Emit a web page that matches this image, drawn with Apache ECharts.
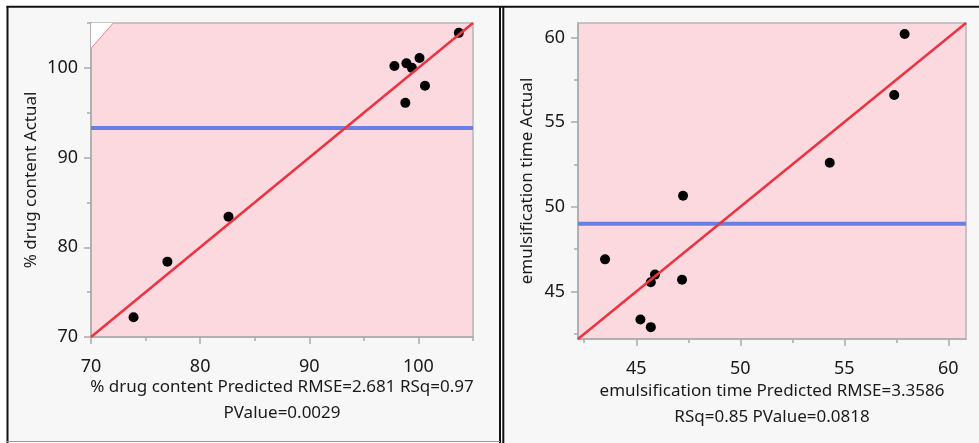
<!DOCTYPE html>
<html>
<head>
<meta charset="utf-8">
<script src="https://cdn.jsdelivr.net/npm/echarts@6/dist/echarts.min.js"></script>
<style>
  html, body { margin: 0; padding: 0; background: #fff; }
  #main { width: 979px; height: 443px; }
</style>
</head>
<body>
<div id="main"></div>
<script>
// left plot: % drug content
const drugPred = [73.9, 77.0, 82.6, 97.8, 98.9, 99.4, 100.1, 98.8, 100.6, 103.7];
const drugActual = [72.2, 78.4, 83.4, 100.2, 100.5, 100.0, 101.1, 96.1, 98.0, 103.9];
const drugMean = 93.3;
const drugRange = [70, 105];
const drugTicks = [70, 80, 90, 100];
const drugMinor = [75, 85, 95, 105];
const drugConf = [[70, 102.17], [72.05, 105]]; // edge of shaded band, top-left corner

// right plot: emulsification time
const emulPred = [43.5, 45.2, 45.7, 45.7, 45.9, 47.2, 47.25, 54.3, 57.4, 57.9];
const emulActual = [46.9, 43.35, 42.9, 45.55, 46.0, 45.7, 50.65, 52.6, 56.6, 60.2];
const emulMean = 49.0;
const emulRange = [42.2, 60.85];
const emulTicks = [45, 50, 55, 60];
const emulMinor = [42.5, 47.5, 52.5, 57.5];

const FONT = "Noto Sans";
const pink = "#fbd9de";
const gray = "#aaaaaa";

function pts(xs, ys) {
  return xs.map((x, i) => [x, ys[i]]);
}

function majorAxis(range, ticks, gridIndex, dim, name, gap) {
  return {
    type: "value",
    gridIndex: gridIndex,
    position: dim === "x" ? "bottom" : "left",
    min: range[0],
    max: range[1],
    name: name,
    nameLocation: "middle",
    nameGap: gap,
    nameMoveOverlap: false,
    nameTextStyle: { fontFamily: FONT, fontSize: 17, color: "#1a1a1a", lineHeight: 26 },
    axisLine: { show: true, onZero: false, lineStyle: { color: gray, width: 1.5 } },
    axisTick: { show: true, customValues: ticks, length: 7, lineStyle: { color: gray, width: 1.5 } },
    axisLabel: {
      customValues: ticks,
      margin: 13,
      padding: dim === "x" ? [8, 0, 0, 0] : 0,
      fontFamily: FONT,
      fontSize: 18,
      color: "#1a1a1a"
    },
    splitLine: { show: false }
  };
}

function minorAxis(range, ticks, gridIndex, dim) {
  return {
    type: "value",
    gridIndex: gridIndex,
    position: dim === "x" ? "bottom" : "left",
    min: range[0],
    max: range[1],
    axisLine: { show: false, onZero: false },
    axisTick: { show: true, customValues: ticks, length: 4, lineStyle: { color: gray, width: 1.5 } },
    axisLabel: { show: false },
    splitLine: { show: false }
  };
}

let myChart = echarts.init(document.getElementById("main"));

let option = {
  animation: false,
  backgroundColor: "#ffffff",
  graphic: [
    { type: "rect", z: -10, shape: { x: 7, y: 7, width: 493, height: 435 }, style: { fill: "#f7f7f7" } },
    { type: "rect", z: -10, shape: { x: 503, y: 7, width: 476, height: 436 }, style: { fill: "#f7f7f7" } },
    { type: "line", z: -9, shape: { x1: 6.5, y1: 6.8, x2: 979, y2: 6.8 }, style: { stroke: "#111", lineWidth: 2 } },
    { type: "line", z: -9, shape: { x1: 7.5, y1: 6, x2: 7.5, y2: 443 }, style: { stroke: "#111", lineWidth: 2 } },
    { type: "line", z: -9, shape: { x1: 500, y1: 6, x2: 500, y2: 443 }, style: { stroke: "#111", lineWidth: 2 } },
    { type: "line", z: -9, shape: { x1: 503.3, y1: 6, x2: 503.3, y2: 443 }, style: { stroke: "#111", lineWidth: 2 } },
    { type: "line", z: -9, shape: { x1: 7, y1: 441.5, x2: 500, y2: 441.5 }, style: { stroke: "#999", lineWidth: 1 } }
  ],
  grid: [
    { left: 91, top: 23, width: 382, height: 314, show: true, backgroundColor: pink, borderColor: "#b5b5b5", borderWidth: 1.5 },
    { left: 578, top: 23, width: 388, height: 316, show: true, backgroundColor: pink, borderColor: "#b5b5b5", borderWidth: 1.5 }
  ],
  xAxis: [
    majorAxis(drugRange, drugTicks, 0, "x", "% drug content Predicted RMSE=2.681 RSq=0.97\nPValue=0.0029", 37),
    minorAxis(drugRange, drugMinor, 0, "x"),
    majorAxis(emulRange, emulTicks, 1, "x", "emulsification time Predicted RMSE=3.3586\nRSq=0.85 PValue=0.0818", 39),
    minorAxis(emulRange, emulMinor, 1, "x")
  ],
  yAxis: [
    majorAxis(drugRange, drugTicks, 0, "y", "% drug content Actual", 47),
    minorAxis(drugRange, drugMinor, 0, "y"),
    majorAxis(emulRange, emulTicks, 1, "y", "emulsification time Actual", 38),
    minorAxis(emulRange, emulMinor, 1, "y")
  ],
  series: [
    {
      type: "line",
      xAxisIndex: 0,
      yAxisIndex: 0,
      data: drugConf,
      showSymbol: false,
      lineStyle: { color: "#f07d8c", width: 1 },
      areaStyle: { color: "#ffffff", opacity: 1, origin: "end" },
      silent: true
    },
    {
      type: "line",
      xAxisIndex: 0,
      yAxisIndex: 0,
      data: [[drugRange[0], drugMean], [drugRange[1], drugMean]],
      showSymbol: false,
      lineStyle: { color: "#6a7fe2", width: 4 }
    },
    {
      type: "line",
      xAxisIndex: 0,
      yAxisIndex: 0,
      data: [[drugRange[0], drugRange[0]], [drugRange[1], drugRange[1]]],
      showSymbol: false,
      lineStyle: { color: "#ec3341", width: 2.5 }
    },
    {
      type: "scatter",
      xAxisIndex: 0,
      yAxisIndex: 0,
      data: pts(drugPred, drugActual),
      symbolSize: 10,
      itemStyle: { color: "#000", opacity: 1 }
    },
    {
      type: "line",
      xAxisIndex: 2,
      yAxisIndex: 2,
      data: [[emulRange[0], emulMean], [emulRange[1], emulMean]],
      showSymbol: false,
      lineStyle: { color: "#6a7fe2", width: 4 }
    },
    {
      type: "line",
      xAxisIndex: 2,
      yAxisIndex: 2,
      data: [[emulRange[0], emulRange[0]], [emulRange[1], emulRange[1]]],
      showSymbol: false,
      lineStyle: { color: "#ec3341", width: 2.5 }
    },
    {
      type: "scatter",
      xAxisIndex: 2,
      yAxisIndex: 2,
      data: pts(emulPred, emulActual),
      symbolSize: 10,
      itemStyle: { color: "#000", opacity: 1 }
    }
  ]
};

myChart.setOption(option);
</script>
</body>
</html>
